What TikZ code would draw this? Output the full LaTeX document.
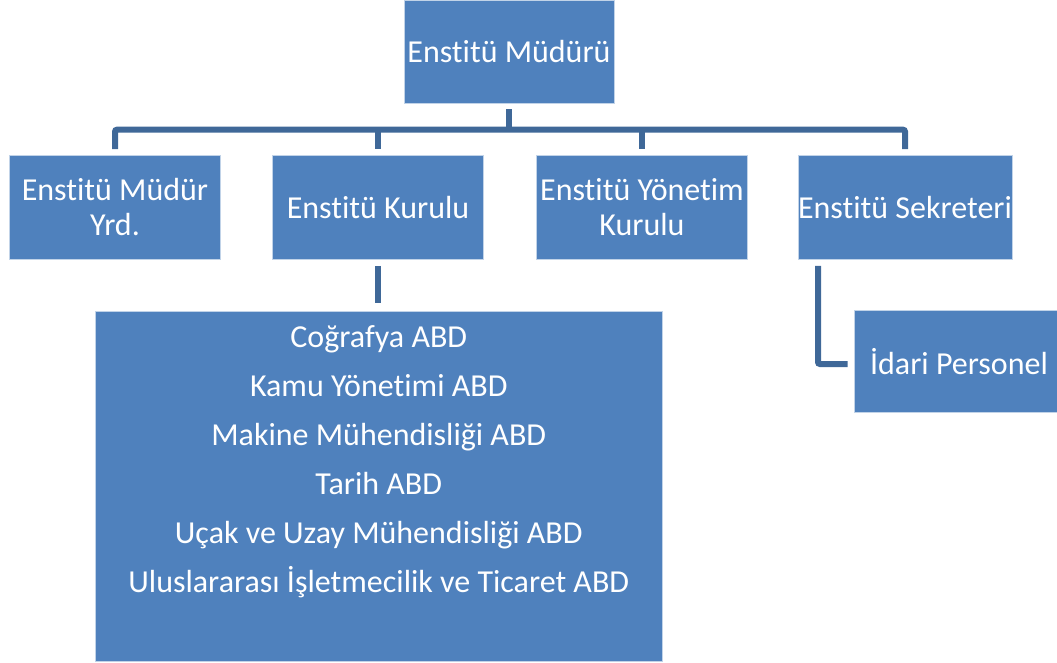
\documentclass[tikz,border=0pt]{standalone}
\usepackage{fontspec}
\setmainfont[Ligatures=NoCommon]{Carlito}
\usetikzlibrary{calc}
\definecolor{boxblue}{HTML}{4F81BD}
\definecolor{linkblue}{HTML}{3F6898}
\tikzset{
  box/.style={fill=boxblue, draw=white!65!boxblue, line width=0.6pt, text=white,
    minimum width=211pt, minimum height=104pt, inner sep=0pt, align=center,
    font=\fontsize{32}{35}\selectfont},
  conn/.style={draw=linkblue, line width=6pt, line cap=butt, rounded corners=2pt}
}
\begin{document}
\begin{tikzpicture}[x=1pt,y=-1pt]
\useasboundingbox (0,0) rectangle (1057,663);
\node[box, minimum width=210pt, minimum height=103pt] (top) at (509,51.5) {Enstitü Müdürü};
\node[box] (b1) at (115,207.5) {Enstitü Müdür\\Yrd.};
\node[box] (b2) at (378,207.5) {Enstitü Kurulu};
\node[box] (b3) at (642,207.5) {Enstitü Yönetim\\Kurulu};
\node[box] (b4) at (905,207.5) {Enstitü Sekreteri};
\node[box, minimum width=210pt, minimum height=102pt] (idari) at (959,361.5) {İdari Personel};
\node[box, minimum width=567pt, minimum height=350pt] (abd) at (378.75,486.5)
  {\parbox[c][350pt][t]{560pt}{\centering\fontsize{32}{49}\selectfont
   \rule{0pt}{36pt}Coğrafya ABD\\
   Kamu Yönetimi ABD\\
   Makine Mühendisliği ABD\\
   Tarih ABD\\
   Uçak ve Uzay Mühendisliği ABD\\
   Uluslararası İşletmecilik ve Ticaret ABD\par}};
\coordinate (bar) at (509,130);
\draw[conn] ($(top.south)+(0,6)$) -- (bar);
\draw[conn] ($(b1.north)+(0,-6)$) |- ($(b4.north)+(0,-25.5)$) -- ($(b4.north)+(0,-6)$);
\draw[conn] (b2.north |- bar) -- ($(b2.north)+(0,-6)$);
\draw[conn] (b3.north |- bar) -- ($(b3.north)+(0,-6)$);
\draw[conn] ($(b2.south)+(0,6)$) -- ($(b2.south |- abd.north)+(0,-8)$);
\draw[conn] ($(b4.south)+(-87,6)$) |- ($(idari.west)+(-6,2.5)$);
\end{tikzpicture}
\end{document}
